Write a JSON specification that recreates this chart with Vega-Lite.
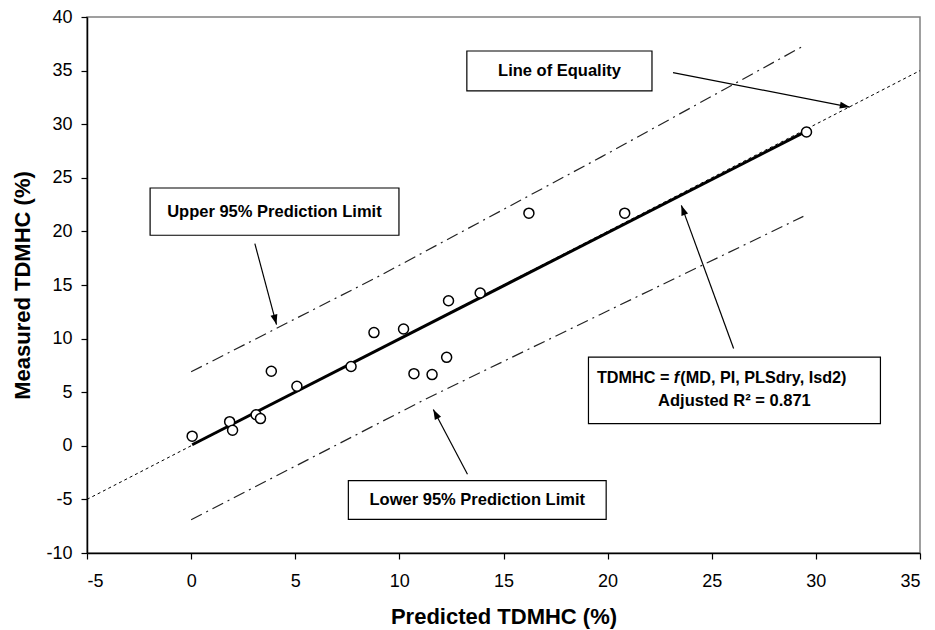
{
  "$schema": "https://vega.github.io/schema/vega-lite/v6.json",
  "width": 833,
  "height": 536,
  "autosize": {"type": "none"},
  "padding": {"left": 87, "top": 17, "right": 15, "bottom": 77},
  "background": "white",
  "config": {
    "view": {"stroke": "#808080", "strokeWidth": 1.5},
    "font": "Liberation Sans",
    "text": {"font": "Liberation Sans"}
  },
  "datasets": {
    "points": [
      {"x": 0.05, "y": 0.9}, {"x": 1.85, "y": 2.25}, {"x": 1.99, "y": 1.45},
      {"x": 3.12, "y": 2.9}, {"x": 3.33, "y": 2.54}, {"x": 3.85, "y": 6.95},
      {"x": 5.08, "y": 5.55}, {"x": 7.68, "y": 7.4}, {"x": 8.78, "y": 10.56},
      {"x": 10.2, "y": 10.9}, {"x": 10.7, "y": 6.73}, {"x": 11.57, "y": 6.64},
      {"x": 12.27, "y": 8.25}, {"x": 12.36, "y": 13.53}, {"x": 13.88, "y": 14.25},
      {"x": 16.22, "y": 21.7}, {"x": 20.82, "y": 21.7}, {"x": 29.55, "y": 29.27}
    ],
    "equality": [{"x": -5, "y": -5}, {"x": 35, "y": 35}],
    "regression": [{"x": 0.05, "y": 0.1}, {"x": 29.5, "y": 29.3}],
    "limits": [
      {"limit": "upper", "x": 0, "y": 6.9}, {"limit": "upper", "x": 9.1, "y": 15.9},
      {"limit": "upper", "x": 19.7, "y": 26.95}, {"limit": "upper", "x": 29.4, "y": 37.3},
      {"limit": "lower", "x": 0, "y": -6.9}, {"limit": "lower", "x": 11.2, "y": 4.3},
      {"limit": "lower", "x": 19.7, "y": 12.3}, {"limit": "lower", "x": 29.4, "y": 21.4}
    ],
    "boxes": [
      {"box": "equality", "x": 13.24, "x2": 22.13, "y": 36.83, "y2": 33.1},
      {"box": "upper", "x": -1.97, "x2": 9.98, "y": 24.05, "y2": 19.64},
      {"box": "lower", "x": 7.55, "x2": 19.93, "y": -3.25, "y2": -6.86},
      {"box": "model", "x": 19.08, "x2": 33.1, "y": 8.28, "y2": 2.07}
    ],
    "labels": [
      {"label": "Line of Equality", "x": 17.69, "y": 34.97},
      {"label": "Upper 95% Prediction Limit", "x": 4.0, "y": 21.85},
      {"label": "Lower 95% Prediction Limit", "x": 13.74, "y": -5.06},
      {"label": "Adjusted R² = 0.871", "x": 26.09, "y": 4.15}
    ],
    "equation": [{"x": 23.3, "y": 6.3}],
    "arrows": [
      {"arrow": "equality", "x": 23.14, "y": 34.81, "x2": 31.63, "y2": 31.6},
      {"arrow": "upper", "x": 3.06, "y": 18.86, "x2": 4.1, "y2": 11.31},
      {"arrow": "lower", "x": 13.27, "y": -2.66, "x2": 11.63, "y2": 3.38},
      {"arrow": "model", "x": 26.05, "y": 9.07, "x2": 23.54, "y2": 22.43}
    ]
  },
  "encoding": {
    "x": {
      "field": "x", "type": "quantitative",
      "scale": {"domain": [-5, 35], "nice": false, "zero": false},
      "axis": {
        "title": "Predicted TDMHC (%)",
        "values": [-5, 0, 5, 10, 15, 20, 25, 30, 35],
        "labelExpr": "'' + datum.value",
        "grid": false,
        "domainColor": "black", "domainWidth": 1.5,
        "tickColor": "black", "tickWidth": 1.2, "tickSize": 6,
        "labelFontSize": 18, "labelColor": "black", "labelPadding": 13,
        "labelFont": "Liberation Sans",
        "titleFont": "Liberation Sans", "titleFontSize": 22, "titleFontWeight": "bold",
        "titleColor": "black", "titlePadding": 16
      }
    },
    "y": {
      "field": "y", "type": "quantitative",
      "scale": {"domain": [-10, 40], "nice": false, "zero": false},
      "axis": {
        "title": "Measured TDMHC (%)",
        "values": [-10, -5, 0, 5, 10, 15, 20, 25, 30, 35, 40],
        "labelExpr": "'' + datum.value",
        "grid": false,
        "domainColor": "black", "domainWidth": 1.5,
        "tickColor": "black", "tickWidth": 1.2, "tickSize": 6,
        "labelFontSize": 18, "labelColor": "black", "labelPadding": 9,
        "labelFont": "Liberation Sans",
        "titleFont": "Liberation Sans", "titleFontSize": 22, "titleFontWeight": "bold",
        "titleColor": "black", "titlePadding": 11
      }
    }
  },
  "layer": [
    {
      "data": {"name": "equality"},
      "mark": {"type": "line", "color": "black", "strokeWidth": 1, "strokeDash": [3, 3]}
    },
    {
      "data": {"name": "limits"},
      "mark": {"type": "line", "color": "#222222", "strokeWidth": 1.2, "strokeDash": [12, 5, 2, 5]},
      "encoding": {"detail": {"field": "limit", "type": "nominal"}}
    },
    {
      "data": {"name": "regression"},
      "mark": {"type": "line", "color": "black", "strokeWidth": 3}
    },
    {
      "data": {"name": "points"},
      "mark": {"type": "point", "shape": "circle", "filled": true, "fill": "white", "stroke": "black", "strokeWidth": 1.5, "size": 100, "opacity": 1}
    },
    {
      "data": {"name": "boxes"},
      "mark": {"type": "rect", "fill": "white", "stroke": "black", "strokeWidth": 1.2},
      "encoding": {"x2": {"field": "x2"}, "y2": {"field": "y2"}}
    },
    {
      "data": {"name": "labels"},
      "mark": {"type": "text", "fontSize": 16.5, "fontWeight": "bold", "color": "black", "align": "center", "baseline": "middle"},
      "encoding": {"text": {"field": "label"}}
    },
    {
      "data": {"name": "equation"},
      "mark": {"type": "text", "fontSize": 16.2, "fontWeight": "bold", "color": "black", "align": "right", "baseline": "middle", "dx": -7, "text": "TDMHC ="}
    },
    {
      "data": {"name": "equation"},
      "mark": {"type": "text", "fontSize": 16.2, "fontWeight": "bold", "fontStyle": "italic", "color": "black", "align": "center", "baseline": "middle", "text": "f"}
    },
    {
      "data": {"name": "equation"},
      "mark": {"type": "text", "fontSize": 16.2, "fontWeight": "bold", "color": "black", "align": "left", "baseline": "middle", "dx": 4, "text": "(MD, PI, PLSdry, Isd2)"}
    },
    {
      "data": {"name": "arrows"},
      "mark": {"type": "rule", "color": "black", "strokeWidth": 1.2},
      "encoding": {"x2": {"field": "x2"}, "y2": {"field": "y2"}}
    },
    {
      "data": {"name": "arrows"},
      "transform": [{"filter": "datum.arrow === 'equality'"}],
      "mark": {"type": "point", "shape": "M0,0L-0.35,1L0.35,1Z", "filled": true, "color": "black", "opacity": 1, "size": 400, "angle": 101},
      "encoding": {"x": {"field": "x2", "type": "quantitative"}, "y": {"field": "y2", "type": "quantitative"}}
    },
    {
      "data": {"name": "arrows"},
      "transform": [{"filter": "datum.arrow === 'upper'"}],
      "mark": {"type": "point", "shape": "M0,0L-0.35,1L0.35,1Z", "filled": true, "color": "black", "opacity": 1, "size": 400, "angle": 165},
      "encoding": {"x": {"field": "x2", "type": "quantitative"}, "y": {"field": "y2", "type": "quantitative"}}
    },
    {
      "data": {"name": "arrows"},
      "transform": [{"filter": "datum.arrow === 'lower'"}],
      "mark": {"type": "point", "shape": "M0,0L-0.35,1L0.35,1Z", "filled": true, "color": "black", "opacity": 1, "size": 400, "angle": 332.3},
      "encoding": {"x": {"field": "x2", "type": "quantitative"}, "y": {"field": "y2", "type": "quantitative"}}
    },
    {
      "data": {"name": "arrows"},
      "transform": [{"filter": "datum.arrow === 'model'"}],
      "mark": {"type": "point", "shape": "M0,0L-0.35,1L0.35,1Z", "filled": true, "color": "black", "opacity": 1, "size": 400, "angle": 340},
      "encoding": {"x": {"field": "x2", "type": "quantitative"}, "y": {"field": "y2", "type": "quantitative"}}
    }
  ]
}
